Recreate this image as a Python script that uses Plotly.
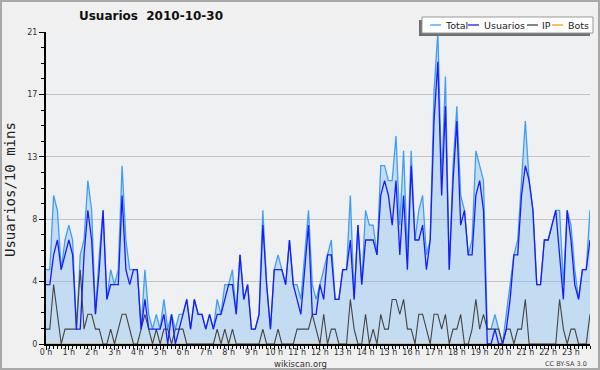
import plotly.graph_objects as go

# 10-minute slots for 2010-10-30 (144 slots), hour labels every 6 slots
hour_labels = [f"{h} h" for h in range(24)]
slots = list(range(144))

total = [
    5, 5, 10, 9, 5, 7,      8, 7, 1, 6, 7, 11,
    9, 2, 6, 9, 3, 5,       4, 5, 12, 7, 5, 5,
    5, 1, 5, 2, 1, 2,       1, 3, 1, 2, 1, 2,
    2, 3, 1, 3, 2, 2,       1, 2, 1, 3, 2, 4,
    4, 5, 2, 6, 3, 4,       1, 1, 2, 9, 4, 1,
    5, 6, 5, 4, 7, 4,       4, 3, 6, 9, 4, 3,
    4, 5, 6, 7, 3, 3,       5, 5, 10, 3, 8, 4,
    9, 8, 8, 6, 12, 12,     11, 11, 14, 8, 13, 6,
    13, 7, 9, 10, 6, 7,     17, 21, 11, 18, 5, 12,
    16, 10, 9, 6, 7, 13,    12, 11, 1, 1, 2, 1,
    0, 2, 4, 6, 7, 11,      15, 11, 9, 4, 4, 7,
    7, 8, 9, 9, 4, 9,       8, 5, 3, 5, 5, 9,
]
usuarios = [
    4, 4, 6, 7, 5, 6,       7, 6, 1, 1, 6, 9,
    7, 2, 5, 9, 3, 4,       4, 4, 10, 5, 4, 5,
    5, 1, 3, 1, 1, 1,       1, 2, 0, 2, 0, 1,
    2, 3, 1, 3, 2, 2,       1, 2, 1, 2, 2, 3,
    4, 4, 2, 6, 3, 4,       1, 1, 2, 8, 4, 1,
    5, 5, 5, 4, 7, 4,       3, 2, 5, 8, 2, 2,
    4, 3, 6, 6, 3, 3,       5, 5, 7, 3, 8, 4,
    7, 7, 7, 6, 10, 11,     10, 8, 11, 6, 10, 5,
    12, 7, 7, 8, 5, 7,      15, 19, 10, 16, 5, 11,
    15, 8, 9, 6, 6, 10,     11, 9, 0, 0, 1, 0,
    0, 1, 3, 6, 6, 10,      12, 11, 9, 4, 4, 7,
    7, 8, 9, 6, 3, 9,       7, 4, 3, 5, 5, 7,
]
ip = [
    1, 1, 4, 2, 0, 1,       1, 1, 1, 5, 1, 2,
    2, 1, 1, 0, 0, 1,       0, 1, 2, 2, 1, 0,
    0, 1, 2, 1, 0, 1,       0, 1, 1, 0, 1, 1,
    1, 0, 0, 0, 0, 0,       0, 0, 0, 1, 0, 1,
    0, 1, 0, 0, 0, 0,       0, 0, 0, 1, 0, 0,
    0, 1, 0, 0, 0, 0,       1, 1, 1, 1, 2, 1,
    0, 2, 0, 1, 1, 0,       0, 0, 3, 1, 0, 0,
    2, 0, 1, 0, 2, 1,       1, 3, 3, 2, 3, 1,
    1, 0, 2, 2, 1, 0,       2, 2, 1, 2, 0, 1,
    1, 2, 0, 0, 1, 3,       1, 2, 1, 1, 1, 1,
    0, 1, 1, 0, 1, 1,       3, 0, 0, 0, 0, 0,
    0, 0, 0, 3, 1, 0,       1, 1, 0, 0, 0, 2,
]
bots = [
    0, 0, 0, 0, 0, 0,  0, 0, 0, 0, 0, 0,  0, 0, 0, 0, 0, 0,  0, 0, 0, 0, 0, 0,
    0, 0, 0, 0, 0, 0,  0, 0, 0, 0, 0, 0,  0, 0, 0, 0, 0, 0,  0, 0, 0, 0, 0, 0,
    0, 0, 0, 0, 0, 0,  0, 0, 0, 0, 0, 0,  0, 0, 0, 0, 0, 0,  0, 0, 0, 0, 0, 0,
    0, 0, 0, 0, 0, 0,  0, 0, 0, 0, 0, 0,  0, 0, 0, 0, 0, 0,  0, 0, 0, 0, 0, 0,
    0, 0, 0, 0, 0, 0,  0, 0, 0, 0, 0, 0,  0, 0, 0, 0, 0, 0,  0, 0, 0, 0, 0, 0,
    0, 0, 0, 0, 0, 0,  0, 0, 0, 0, 0, 0,  0, 0, 0, 0, 0, 0,  0, 0, 0, 0, 0, 0,
]
y_tick_vals = [0, 4.2, 8.4, 12.6, 16.8, 21]
y_tick_text = ["0", "4", "8", "13", "17", "21"]

C_TOTAL = "#3f9ff0"
C_FILL = "rgba(106,177,239,0.32)"
C_USU = "#1a1aff"
C_IP = "#444444"
C_BOTS = "#ff9900"
FONT = "DejaVu Sans, sans-serif"

W, H = 600, 370
ML, MR, MT, MB = 46, 10, 32, 26
PW, PH = W - ML - MR, H - MT - MB


def xp(px):
    return (px - ML) / PW


def yp(py):
    return (H - MB - py) / PH


fig = go.Figure()
fig.add_trace(go.Scatter(x=slots, y=bots, name="Bots", mode="lines",
                         line=dict(color=C_BOTS, width=1)))
fig.add_trace(go.Scatter(x=slots, y=total, name="Total", mode="lines",
                         line=dict(color=C_TOTAL, width=1.3),
                         fill="tozeroy", fillcolor=C_FILL))
fig.add_trace(go.Scatter(x=slots, y=ip, name="IP", mode="lines",
                         line=dict(color=C_IP, width=1.1)))
fig.add_trace(go.Scatter(x=slots, y=usuarios, name="Usuarios", mode="lines",
                         line=dict(color=C_USU, width=1.3)))

shapes = []
annotations = []
# outer frame
shapes.append(dict(type="rect", xref="paper", yref="paper",
                   x0=xp(1), x1=xp(599), y0=yp(1), y1=yp(369),
                   line=dict(color="#a8a8a8", width=2), layer="below"))
# legend shadow + box
shapes.append(dict(type="rect", xref="paper", yref="paper",
                   x0=xp(419), x1=xp(590), y0=yp(20), y1=yp(36),
                   fillcolor="#707070", line=dict(width=0)))
shapes.append(dict(type="rect", xref="paper", yref="paper",
                   x0=xp(422), x1=xp(593), y0=yp(17), y1=yp(33),
                   fillcolor="white", line=dict(color="#999999", width=1)))
legend_items = [("Total", C_TOTAL, 430, 443), ("Usuarios", C_USU, 468, 482),
                ("IP", C_IP, 527, 540), ("Bots", C_BOTS, 552, 566)]
for name, col, sx, tx in legend_items:
    shapes.append(dict(type="line", xref="paper", yref="paper",
                       x0=xp(sx), x1=xp(sx + 11), y0=yp(25), y1=yp(25),
                       line=dict(color=col, width=1.3)))
    annotations.append(dict(text=name, xref="paper", yref="paper",
                            x=xp(tx), y=yp(25.5), xanchor="left", yanchor="middle",
                            showarrow=False, font=dict(family=FONT, size=9.5, color="#222")))

annotations.append(dict(text="Usuarios/10 mins", xref="paper", yref="paper",
                        x=xp(10), y=yp(190), textangle=-90, showarrow=False,
                        xanchor="center", yanchor="middle",
                        font=dict(family="DejaVu Sans Mono, monospace", size=14, color="#222")))
annotations.append(dict(text="wikiscan.org", xref="paper", yref="paper",
                        x=xp(300), y=yp(363.5), showarrow=False,
                        xanchor="center", yanchor="middle",
                        font=dict(family=FONT, size=8.5, color="#333")))
annotations.append(dict(text="CC BY-SA 3.0", xref="paper", yref="paper",
                        x=xp(589), y=yp(363.5), showarrow=False,
                        xanchor="right", yanchor="middle",
                        font=dict(family=FONT, size=6.5, color="#444")))

fig.update_layout(
    width=W, height=H,
    margin=dict(l=ML, r=MR, t=MT, b=MB, autoexpand=False),
    paper_bgcolor="#f0f0f0",
    plot_bgcolor="#eef0f2",
    showlegend=False,
    title=dict(text="Usuarios\u00a0 2010-10-30", x=151 / W, xanchor="center",
               y=1 - 16 / H, yanchor="middle",
               font=dict(family=FONT, size=12, color="#111", weight="bold")),
    xaxis=dict(range=[0, 143], tickmode="array", automargin=False,
               tickvals=[6 * h for h in range(24)], ticktext=hour_labels,
               ticks="outside", ticklen=4, tickwidth=1, tickcolor="black",
               ticklabelstandoff=-5,
               showgrid=False, zeroline=False,
               showline=True, linecolor="black", linewidth=2,
               tickfont=dict(family=FONT, size=8, color="#333"),
               minor=dict(tickmode="linear", tick0=0, dtick=1, ticks="outside",
                          ticklen=3, tickcolor="black", showgrid=False)),
    yaxis=dict(range=[0, 21], tickmode="array", automargin=False,
               tickvals=y_tick_vals, ticktext=y_tick_text,
               ticks="outside", ticklen=5, tickwidth=1, tickcolor="black",
               showgrid=True, gridcolor="#c4c4c4", gridwidth=1,
               zeroline=False, showline=True, linecolor="black", linewidth=2,
               tickfont=dict(family=FONT, size=8, color="#333"),
               minor=dict(tickmode="linear", tick0=0, dtick=1.05, ticks="outside",
                          ticklen=3, tickcolor="black", showgrid=False)),
    shapes=shapes,
    annotations=annotations,
)

fig.write_html("out.html", config={"displayModeBar": False},
               post_script="document.body.style.margin='0';")
